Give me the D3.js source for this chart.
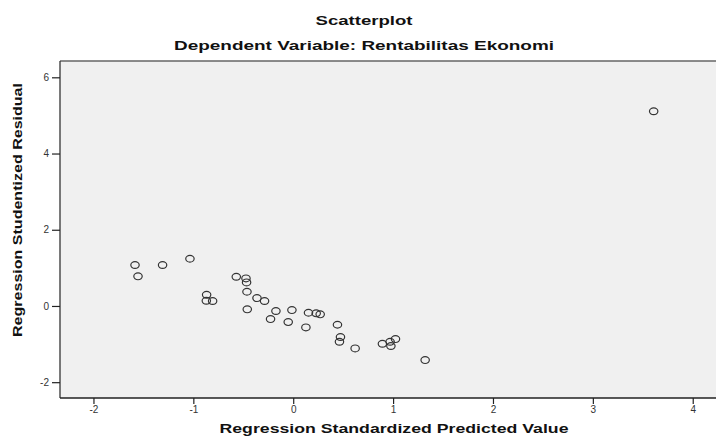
<!DOCTYPE html>
<html>
<head>
<meta charset="utf-8">
<script src="https://cdn.jsdelivr.net/npm/d3@7"></script>
<style>
  body { margin: 0; background: #fff; }
  svg { display: block; font-family: "Liberation Sans", Arial, sans-serif; }
  .axis path { display: none; }
  .axis line { stroke: #222; stroke-width: 1.2; }
  .axis text { font-size: 10px; fill: #333; }
</style>
</head>
<body>
<svg id="chart"></svg>
<script>
// values
const predicted = [-1.584, -1.554, -1.308, -1.034, -0.867, -0.870, -0.807, -0.570,
  -0.473, -0.467, -0.463, -0.460, -0.363, -0.287, -0.173, -0.013, -0.227, -0.050,
  0.153, 0.230, 0.270, 0.127, 0.443, 0.473, 0.463, 0.620, 0.893, 0.970, 0.978,
  1.024, 1.321, 3.609];
const residual = [1.074, 0.777, 1.074, 1.239, 0.294, 0.136, 0.129, 0.766,
  0.724, 0.619, 0.373, -0.089, 0.207, 0.129, -0.134, -0.108, -0.344, -0.423,
  -0.178, -0.194, -0.220, -0.562, -0.493, -0.816, -0.940, -1.113, -0.992, -0.940, -1.052,
  -0.869, -1.420, 5.108];
const xTicks = [-2, -1, 0, 1, 2, 3, 4];
const yTicks = [-2, 0, 2, 4, 6];

const W = 716, H = 437;
const margin = { top: 61, right: 0, bottom: 39, left: 60 };
const width = W - margin.left - margin.right,
      height = H - margin.top - margin.bottom;

const svg = d3.select("#chart").attr("width", W).attr("height", H);

const x = d3.scaleLinear().domain([-2.335, 4.233]).range([0, width]);
const y = d3.scaleLinear().domain([-2.415, 6.428]).range([height, 0]);

// plain hyphen minus, like the original
const fmt = d => String(d);

const g = svg.append("g").attr("transform", `translate(${margin.left},${margin.top})`);

g.append("rect")
  .attr("width", width).attr("height", height)
  .attr("fill", "#f0f0f0");

// frame
g.append("line").attr("x1", 0).attr("x2", width).attr("y1", 0).attr("y2", 0)
  .attr("stroke", "#666").attr("stroke-width", 1.6);
g.append("line").attr("x1", 0).attr("x2", 0).attr("y1", 0).attr("y2", height)
  .attr("stroke", "#333").attr("stroke-width", 1.3);
g.append("line").attr("x1", 0).attr("x2", width).attr("y1", height).attr("y2", height)
  .attr("stroke", "#222").attr("stroke-width", 1.3);

g.append("g").attr("class", "axis")
  .call(d3.axisLeft(y).tickValues(yTicks).tickFormat(fmt).tickSize(8).tickPadding(3));

g.append("g").attr("class", "axis")
  .attr("transform", `translate(0,${height})`)
  .call(d3.axisBottom(x).tickValues(xTicks).tickFormat(fmt).tickSize(6).tickPadding(2));

g.selectAll("ellipse.pt")
  .data(predicted.map((d, i) => [d, residual[i]]))
  .join("ellipse")
  .attr("class", "pt")
  .attr("cx", d => x(d[0]))
  .attr("cy", d => y(d[1]))
  .attr("rx", 4.2).attr("ry", 3.4)
  .attr("fill", "none")
  .attr("stroke", "#333")
  .attr("stroke-width", 1.2);

// titles
svg.append("text")
  .attr("x", 364).attr("y", 25)
  .attr("text-anchor", "middle")
  .attr("font-size", 13).attr("font-weight", "bold").attr("fill", "#111")
  .attr("textLength", 97).attr("lengthAdjust", "spacingAndGlyphs")
  .text("Scatterplot");

svg.append("text")
  .attr("x", 364).attr("y", 50)
  .attr("text-anchor", "middle")
  .attr("font-size", 13).attr("font-weight", "bold").attr("fill", "#111")
  .attr("textLength", 380).attr("lengthAdjust", "spacingAndGlyphs")
  .text("Dependent Variable: Rentabilitas Ekonomi");

svg.append("text")
  .attr("x", 394).attr("y", 433)
  .attr("text-anchor", "middle")
  .attr("font-size", 13).attr("font-weight", "bold").attr("fill", "#111")
  .attr("textLength", 349).attr("lengthAdjust", "spacingAndGlyphs")
  .text("Regression Standardized Predicted Value");

svg.append("text")
  .attr("transform", "translate(22,210) rotate(-90)")
  .attr("text-anchor", "middle")
  .attr("font-size", 13).attr("font-weight", "bold").attr("fill", "#111")
  .attr("textLength", 254).attr("lengthAdjust", "spacingAndGlyphs")
  .text("Regression Studentized Residual");
</script>
</body>
</html>
